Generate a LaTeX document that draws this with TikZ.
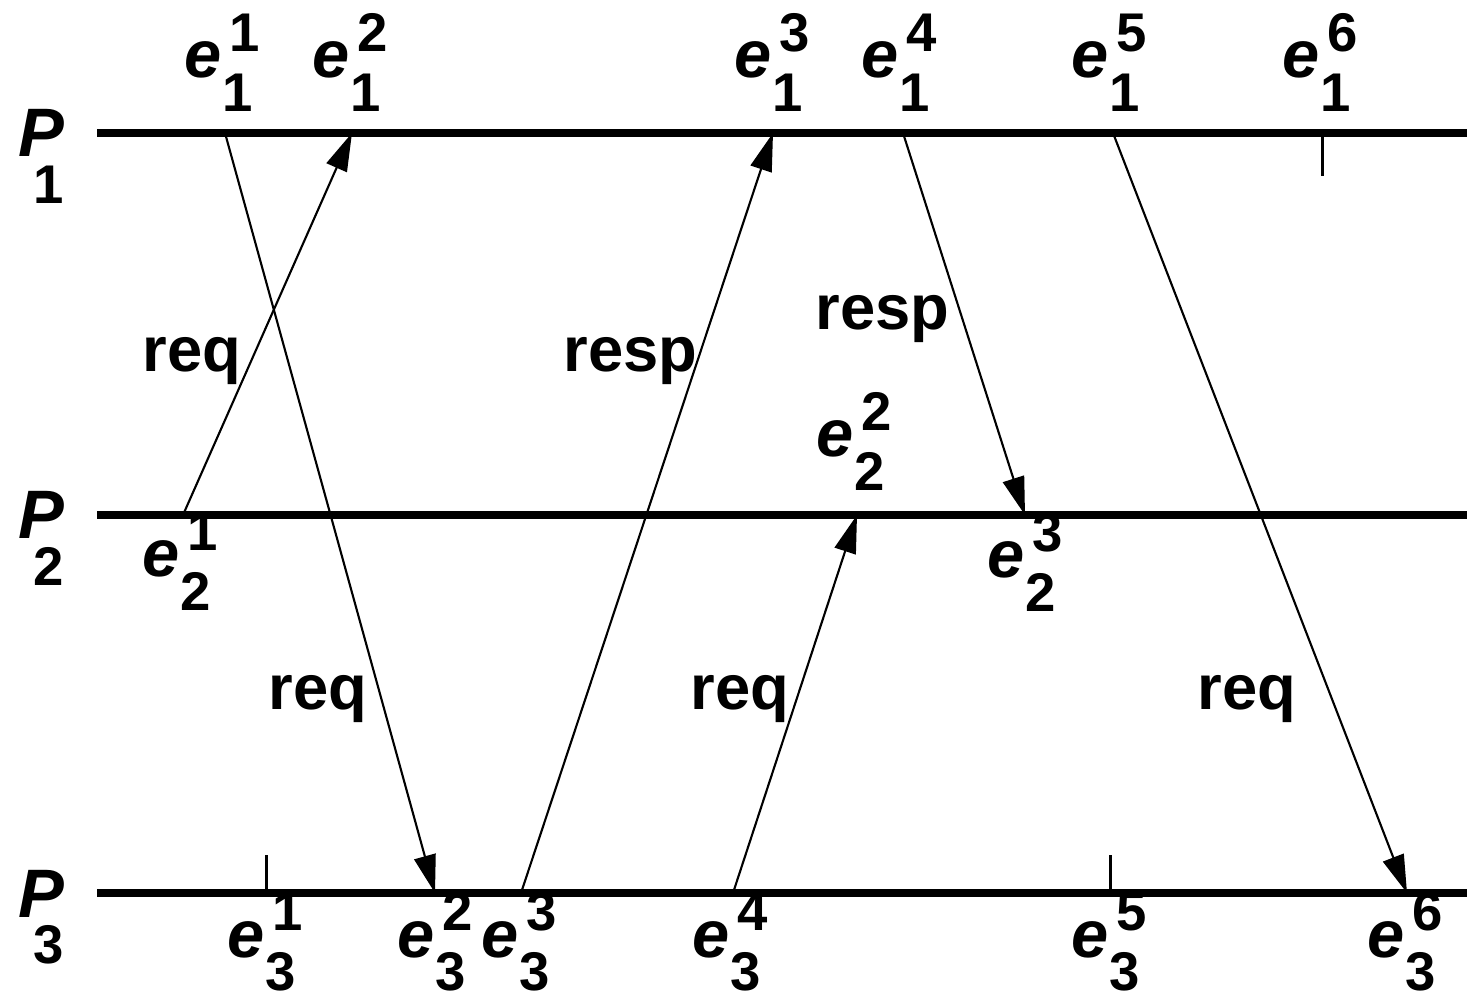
\documentclass[tikz,border=0pt]{standalone}
\usepackage{fontspec}
\setmainfont{Liberation Sans}
\usetikzlibrary{arrows.meta}
\newcommand\ev[2]{{\fontsize{19}{20}\selectfont\itshape e}\kern0.01cm\rlap{\kern0.07cm\raisebox{0.26cm}{#1}}\raisebox{-0.33cm}{#2}}
\newcommand\plab[1]{\textit{P}\kern-0.45em\raisebox{-0.68em}{\fontsize{15.5}{18}\selectfont #1}}
\begin{document}
\begin{tikzpicture}[x=0.01cm,y=-0.01cm,
  proc/.style={line width=0.08cm},
  msg/.style={line width=0.6pt,-{Triangle[length=0.38cm,width=0.22cm]}},
  tickmark/.style={line width=0.03cm},
  evlab/.style={anchor=base west,inner sep=0pt,font=\fontsize{15.5}{18}\selectfont\bfseries},
  msglab/.style={anchor=base west,inner sep=0pt,font=\fontsize{18}{20}\selectfont\bfseries},
  plabel/.style={anchor=base west,inner sep=0pt,font=\fontsize{19.5}{22}\selectfont\bfseries}]
\useasboundingbox (0,0) rectangle (1467,998);
% process lines
\coordinate (p1s) at (97,133); \coordinate (p1e) at (1467,133);
\coordinate (p2s) at (97,515); \coordinate (p2e) at (1467,515);
\coordinate (p3s) at (97,893); \coordinate (p3e) at (1467,893);
\draw[proc] (p1s) -- (p1e);
\draw[proc] (p2s) -- (p2e);
\draw[proc] (p3s) -- (p3e);
% events
\coordinate (e11) at (225,133); \coordinate (e12) at (352,133);
\coordinate (e13) at (773,133); \coordinate (e14) at (903,133);
\coordinate (e15) at (1113,133); \coordinate (e16) at (1322,133);
\coordinate (e21) at (183,515); \coordinate (e22) at (857,515);
\coordinate (e23) at (1025,515);
\coordinate (e31) at (266,893); \coordinate (e32) at (435,893);
\coordinate (e33) at (521,893); \coordinate (e34) at (733,893);
\coordinate (e35) at (1110,893); \coordinate (e36) at (1407,893);
% ticks
\coordinate (t16) at (1322,176);
\coordinate (t31) at (266,855);
\coordinate (t35) at (1110,855);
\draw[tickmark] (e16) -- (t16);
\draw[tickmark] (e31) -- (t31);
\draw[tickmark] (e35) -- (t35);
% messages
\draw[msg] (e21) -- (e12);
\draw[msg] (e11) -- (e32);
\draw[msg] (e33) -- (e13);
\draw[msg] (e14) -- (e23);
\draw[msg] (e34) -- (e22);
\draw[msg] (e15) -- (e36);
% process labels
\node[plabel] (P1) at (18,157) {\plab{1}};
\node[plabel] (P2) at (18,539) {\plab{2}};
\node[plabel] (P3) at (18,917) {\plab{3}};
% event labels
\node[evlab] (l11) at (184,78) {\ev{1}{1}};
\node[evlab] (l12) at (312,78) {\ev{2}{1}};
\node[evlab] (l13) at (734,78) {\ev{3}{1}};
\node[evlab] (l14) at (861,78) {\ev{4}{1}};
\node[evlab] (l15) at (1071,78) {\ev{5}{1}};
\node[evlab] (l16) at (1282,78) {\ev{6}{1}};
\node[evlab] (l21) at (142,577) {\ev{1}{2}};
\node[evlab] (l22) at (816,457) {\ev{2}{2}};
\node[evlab] (l23) at (987,578) {\ev{3}{2}};
\node[evlab] (l31) at (227,957) {\ev{1}{3}};
\node[evlab] (l32) at (397,957) {\ev{2}{3}};
\node[evlab] (l33) at (481,957) {\ev{3}{3}};
\node[evlab] (l34) at (692,957) {\ev{4}{3}};
\node[evlab] (l35) at (1071,957) {\ev{5}{3}};
\node[evlab] (l36) at (1367,957) {\ev{6}{3}};
% message labels
\node[msglab] (m1) at (142,372) {req};
\node[msglab] (m2) at (268,710) {req};
\node[msglab] (m3) at (563,372) {resp};
\node[msglab] (m4) at (815,330) {resp};
\node[msglab] (m5) at (690,710) {req};
\node[msglab] (m6) at (1197,710) {req};
\end{tikzpicture}
\end{document}
